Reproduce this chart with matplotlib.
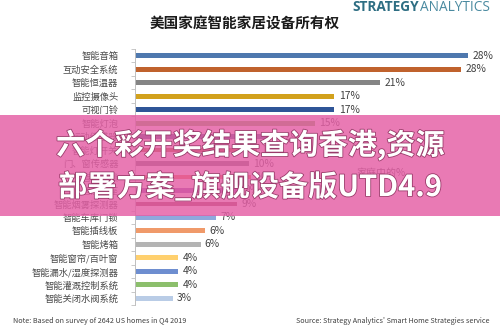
import matplotlib
matplotlib.use("Agg")
import matplotlib.pyplot as plt
import matplotlib.patheffects as pe
import numpy as np

plt.rcParams['font.family'] = ['Noto Sans CJK SC', 'DejaVu Sans']

categories = ["智能音箱", "互动安全系统", "智能恒温器", "监控摄像头", "可视门铃",
              "智能灯泡", "运动传感器", "智能灯开关", "门、窗传感器", "智能门锁",
              "智能插座", "智能烟雾探测器", "智能车库门锁", "智能插线板", "智能烤箱",
              "智能窗帘/百叶窗", "智能漏水/湿度探测器", "智能灌溉控制系统", "智能关闭水阀系统"]
values = [28.4, 27.8, 20.9, 17.0, 17.0, 15.3, 11.9, 10.4, 9.7, 9.9,
          9.0, 8.7, 6.9, 6.0, 5.6, 3.7, 3.7, 3.7, 3.2]
value_labels = ["28%", "28%", "21%", "17%", "17%", "15%", "12%", "11%", "10%", "10%",
                "9%", "9%", "7%", "6%", "6%", "4%", "4%", "4%", "3%"]
colors = ["#4E78AE", "#C0622D", "#858585", "#D2A11C", "#2F5597", "#70AD47",
          "#264478", "#9E480E", "#636363", "#ED5A31", "#7A3FA0", "#8A3A4A",
          "#8FA8DC", "#F09A6A", "#B4B4B4", "#FFD06E", "#6E8ED0", "#8CBF6C", "#B9CCE6"]

fig = plt.figure(figsize=(5, 3.33), dpi=100)
ax = fig.add_axes([0.27, 0.084, 0.704, 0.769])
n = len(categories)
y = np.arange(n)
ax.barh(y, values, height=0.36, color=colors)
for yi, v, lab in zip(y, values, value_labels):
    ax.text(v + 0.35, yi, lab, va='center', ha='left', fontsize=7.4, color='#404040')
ax.set_xlim(0, 30)
ax.set_ylim(n - 0.5, -0.5)
ax.set_yticks(y)
ax.set_yticklabels(categories, fontsize=6.7, color='#4a4a4a')
ax.tick_params(axis='y', which='major', length=0, pad=12)
ax.set_yticks(np.arange(-0.5, n, 1), minor=True)
ax.tick_params(axis='y', which='minor', length=3, color='#BFBFBF', width=0.6)
ax.set_xticks([])
for s in ['top', 'right', 'bottom']:
    ax.spines[s].set_visible(False)
ax.spines['left'].set_color('#BFBFBF')
ax.spines['left'].set_linewidth(0.7)

ax.text(0.70, 0.515, "家庭中的%", transform=ax.transAxes, fontsize=7.2, color='#404040', ha='center', va='center')

fig.text(0.49, 0.93, "美国家庭智能家居设备所有权", fontsize=10.5, fontweight='bold', ha='center', va='center', color='#1a1a1a')
fig.text(0.838, 0.978, "STRATEGY", fontsize=9.8, fontweight='bold', ha='right', va='center', color='#2E6E83', family='Open Sans')
fig.text(0.841, 0.978, "ANALYTICS", fontsize=9.8, ha='left', va='center', color='#4A8AA0', family='Open Sans')

fig.text(0.026, 0.036, "Note: Based on survey of 2642 US homes in Q4 2019", fontsize=5.2, ha='left', va='center', color='#404040')
fig.text(0.98, 0.036, "Source: Strategy Analytics' Smart Home Strategies service", fontsize=5.2, ha='right', va='center', color='#404040')

# pink overlay banner
fig.patches.append(plt.Rectangle((0, 1 - 216 / 333), 1, 101 / 333, transform=fig.transFigure,
                                 facecolor='#E560A6', alpha=0.84, zorder=5, edgecolor='none'))
eff = [pe.withStroke(linewidth=1.2, foreground='#9a3a6a')]
fig.text(0.5, 1 - 145 / 333, "六个彩开奖结果查询香港,资源", fontsize=21, fontweight='bold', color='white',
         ha='center', va='center', zorder=6, path_effects=eff)
fig.text(0.5, 1 - 187 / 333, "部署方案_旗舰设备版UTD4.9", fontsize=21, fontweight='bold', color='white',
         ha='center', va='center', zorder=6, path_effects=eff)

fig.savefig("out.png", dpi=100)
